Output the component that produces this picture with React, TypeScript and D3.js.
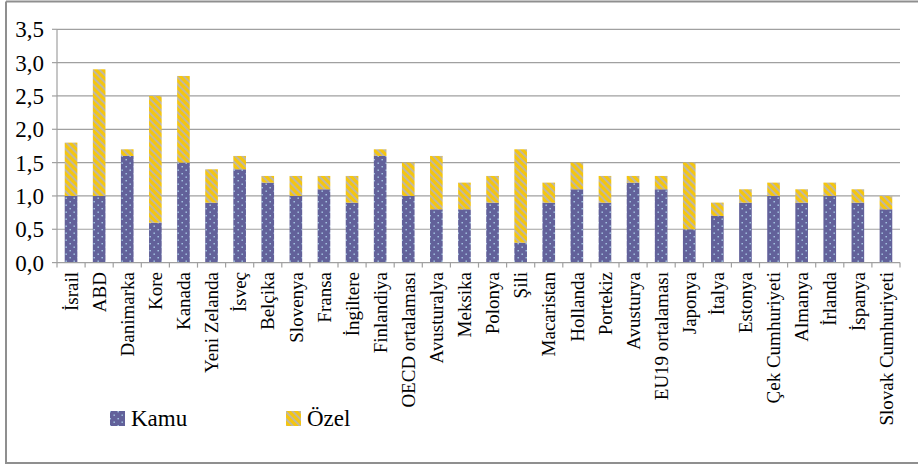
import React from "react";
import * as d3 from "d3";

const categories = ["İsrail","ABD","Danimarka","Kore","Kanada","Yeni Zelanda","İsveç","Belçika","Slovenya","Fransa","İngiltere","Finlandiya","OECD ortalaması","Avusturalya","Meksika","Polonya","Şili","Macaristan","Hollanda","Portekiz","Avusturya","EU19 ortalaması","Japonya","İtalya","Estonya","Çek Cumhuriyeti","Almanya","İrlanda","İspanya","Slovak Cumhuriyeti"];
const kamu = [1.0,1.0,1.6,0.6,1.5,0.9,1.4,1.2,1.0,1.1,0.9,1.6,1.0,0.8,0.8,0.9,0.3,0.9,1.1,0.9,1.2,1.1,0.5,0.7,0.9,1.0,0.9,1.0,0.9,0.8];
const ozel = [0.8,1.9,0.1,1.9,1.3,0.5,0.2,0.1,0.3,0.2,0.4,0.1,0.5,0.8,0.4,0.4,1.4,0.3,0.4,0.4,0.1,0.2,1.0,0.2,0.2,0.2,0.2,0.2,0.2,0.2];
const yTicks = [0,0.5,1,1.5,2,2.5,3,3.5];
const seriesNames = ["Kamu","Özel"];

const W = 918, H = 465;
const left = 57, right = 900, top = 29.3, bottom = 262.6;
const FONT = "Liberation Serif";

export default function App() {
  const x = d3.scaleBand<string>().domain(categories).range([left, right]).paddingInner(0.55).paddingOuter(0.275);
  const y = d3.scaleLinear().domain([0, 3.5]).range([bottom, top]);
  const step = x.step();
  const fmt = (v: number) => v.toFixed(1).replace(".", ",");
  const grid = "#a0a0a0";
  return (
    <svg width={W} height={H} style={{ position: "absolute", left: 0, top: 0 }}>
      <style>{`text { font-family: "Liberation Serif", serif; }`}</style>
      <defs>
        <pattern id="pKamu" width="8" height="7" patternUnits="userSpaceOnUse">
          <rect width="8" height="7" fill="#62619a" />
          <rect x="1.5" y="1.5" width="1.4" height="1.4" fill="#a9cde8" />
          <rect x="5.5" y="5" width="1.4" height="1.4" fill="#a9cde8" />
        </pattern>
        <pattern id="pOzel" width="5" height="5" patternUnits="userSpaceOnUse" patternTransform="rotate(-45)">
          <rect width="5" height="5" fill="#f5c60e" />
          <rect x="0" y="0" width="2" height="5" fill="#c0b7a0" />
        </pattern>
      </defs>
      <rect x={0} y={0} width={W} height={H} fill="#fff" />
      <path d={`M6,1.5 H${W + 5} M6,1.5 V463 H${W + 5}`} fill="none" stroke="#8f8f8f" strokeWidth={2} />
      {yTicks.map((t) => (
        <g key={t}>
          {t > 0 && <line x1={left} x2={right} y1={y(t)} y2={y(t)} stroke={grid} strokeWidth={1.2} />}
          <line x1={left - 5} x2={left} y1={y(t)} y2={y(t)} stroke={grid} strokeWidth={1.2} />
          <text x={44} y={y(t)} dy="0.35em" textAnchor="end" fontSize={23} fontFamily={FONT} style={{ fontFamily: FONT }}>{fmt(t)}</text>
        </g>
      ))}
      <line x1={left} x2={left} y1={top} y2={bottom} stroke={grid} strokeWidth={1.2} />
      {categories.map((c, i) => {
        const bx = x(c)!;
        const bw = x.bandwidth();
        return (
          <g key={c}>
            <rect x={bx} y={y(kamu[i])} width={bw} height={y(0) - y(kamu[i])} fill="url(#pKamu)" />
            <rect x={bx} y={y(kamu[i] + ozel[i])} width={bw} height={y(kamu[i]) - y(kamu[i] + ozel[i])} fill="url(#pOzel)" />
          </g>
        );
      })}
      <line x1={left} x2={right} y1={bottom} y2={bottom} stroke={grid} strokeWidth={1.2} />
      {d3.range(categories.length + 1).map((i) => (
        <line key={i} x1={left + i * step} x2={left + i * step} y1={bottom} y2={bottom + 5} stroke={grid} strokeWidth={1.2} />
      ))}
      {categories.map((c) => {
        const cx = x(c)! + x.bandwidth() / 2;
        return (
          <text key={c} transform={`translate(${cx},272) rotate(-90)`} dy="0.35em" textAnchor="end" fontSize={19} fontFamily={FONT} style={{ fontFamily: FONT }}>{c}</text>
        );
      })}
      <rect x={110} y={411} width={15} height={15} fill="url(#pKamu)" />
      <text x={131} y={426} fontSize={23} fontFamily={FONT} style={{ fontFamily: FONT }}>{seriesNames[0]}</text>
      <rect x={286} y={411} width={15} height={15} fill="url(#pOzel)" />
      <text x={307} y={426} fontSize={23} fontFamily={FONT} style={{ fontFamily: FONT }}>{seriesNames[1]}</text>
    </svg>
  );
}
